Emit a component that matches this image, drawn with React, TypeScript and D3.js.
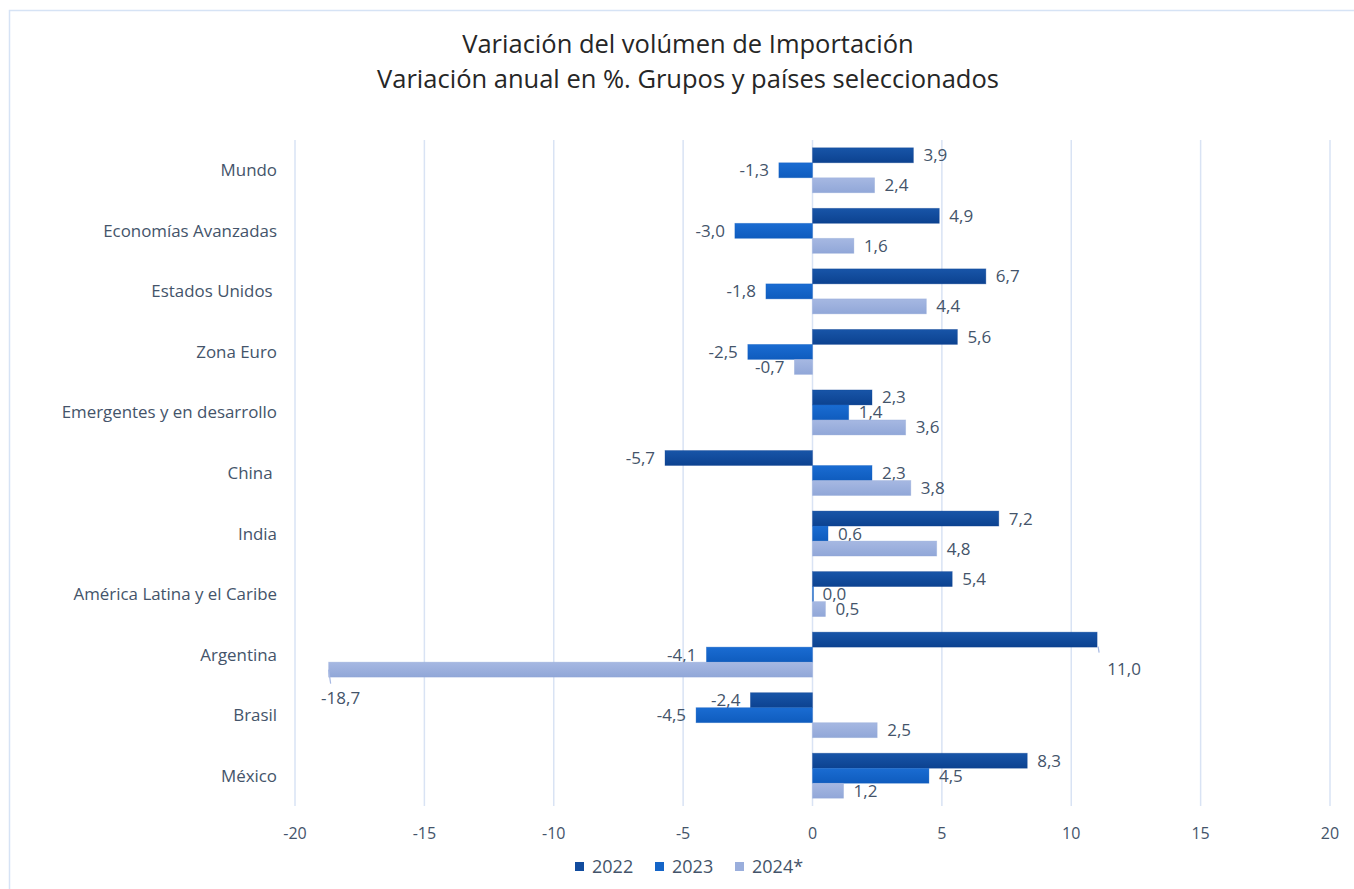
import React from "react";
import * as d3 from "d3";

const categories = [
  "Mundo",
  "Economías Avanzadas",
  "Estados Unidos ",
  "Zona Euro",
  "Emergentes y en desarrollo",
  "China ",
  "India",
  "América Latina y el Caribe",
  "Argentina",
  "Brasil",
  "México",
];
const seriesNames = ["2022", "2023", "2024*"];
const values2022 = [3.9, 4.9, 6.7, 5.6, 2.3, -5.7, 7.2, 5.4, 11.0, -2.4, 8.3];
const values2023 = [-1.3, -3.0, -1.8, -2.5, 1.4, 2.3, 0.6, 0.0, -4.1, -4.5, 4.5];
const values2024 = [2.4, 1.6, 4.4, -0.7, 3.6, 3.8, 4.8, 0.5, -18.7, 2.5, 1.2];
const xTicks = [-20, -15, -10, -5, 0, 5, 10, 15, 20];
const titleLines = [
  "Variación del volúmen de Importación",
  "Variación anual en %. Grupos y países seleccionados",
];

const seriesValues = [values2022, values2023, values2024];
const colors = [
  ["#1855A8", "#0C4290"],
  ["#1A6CD2", "#0F5CBE"],
  ["#A6B8E2", "#91A7D8"],
];
const legendColors = ["#124C9E", "#1565C8", "#9AAEDC"];

// manually moved labels (below the bar end, with a leader line)
const labelMoves: Record<string, { dx: number; dy: number; leaderLen: number; leaderDx: number }> = {
  "8-0": { dx: 27, dy: 35, leaderLen: 6, leaderDx: 1 },
  "8-2": { dx: 12, dy: 34, leaderLen: 14, leaderDx: 2 },
};

const W = 1354;
const H = 889;
const fontFamily = "'Open Sans', Lato, sans-serif";
const textColor = "#44546A";

export default function App() {
  const x = d3.scaleLinear().domain([-20, 20]).range([295, 1330]);
  const y = d3.scaleBand<string>().domain(categories).range([140, 806]).paddingInner(0).paddingOuter(0);
  const groupH = 45;
  const sub = d3
    .scaleBand<string>()
    .domain(seriesNames)
    .range([(y.bandwidth() - groupH) / 2, (y.bandwidth() + groupH) / 2]);
  const fmt = (v: number) => v.toFixed(1).replace(".", ",");

  const legendX = [575, 655, 735];

  return (
    <svg width={W} height={H} style={{ display: "block", position: "absolute", left: 0, top: 0 }}>
      <defs>
        {colors.map((c, i) => (
          <linearGradient key={i} id={`g${i}`} x1="0" y1="0" x2="0" y2="1">
            <stop offset="0%" stopColor={c[0]} />
            <stop offset="100%" stopColor={c[1]} />
          </linearGradient>
        ))}
      </defs>
      <rect x={0} y={0} width={W} height={H} fill="#fff" />
      <rect x={9.5} y={10.5} width={W + 20} height={H + 20} fill="none" stroke="#D6E3F5" strokeWidth={1.5} />
      {titleLines.map((t, i) => (
        <text
          key={i}
          x={688}
          y={53 + i * 35}
          textAnchor="middle"
          fontFamily={fontFamily}
          fontSize={25.5}
          fill="#262626"
        >
          {t}
        </text>
      ))}
      {xTicks.map((t) => (
        <g key={t}>
          <line x1={x(t)} x2={x(t)} y1={140} y2={806} stroke="#D9E3F4" strokeWidth={1.5} />
          <text
            x={x(t)}
            y={839}
            textAnchor="middle"
            fontFamily={fontFamily}
            fontSize={16}
            fill={textColor}
          >
            {t}
          </text>
        </g>
      ))}
      {categories.map((c) => (
        <text
          key={c}
          x={277}
          y={(y(c) as number) + y.bandwidth() / 2 + 6}
          textAnchor="end"
          fontFamily={fontFamily}
          fontSize={16.9}
          fill={textColor}
          style={{ whiteSpace: "pre" }}
        >
          {c}
        </text>
      ))}
      {categories.map((c, ci) =>
        seriesNames.map((s, si) => {
          const v = seriesValues[si][ci];
          const y0 = (y(c) as number) + (sub(s) as number);
          const h = sub.bandwidth();
          const x0 = Math.min(x(0), x(v));
          const w = Math.abs(x(v) - x(0));
          const key = `${ci}-${si}`;
          const mv = labelMoves[key];
          let lx = v >= 0 ? x(v) + 10 : x(v) - 10;
          let anchor = v >= 0 ? "start" : "end";
          let ly = y0 + h / 2 + 6;
          let leader = null as React.ReactNode;
          if (mv) {
            lx = x(v) + mv.dx;
            ly = y0 + h / 2 + mv.dy;
            anchor = "middle";
            leader = (
              <line
                x1={x(v) + (v >= 0 ? 1 : 0)}
                x2={x(v) + (v >= 0 ? 1 : 0) + mv.leaderDx}
                y1={y0 + h / 2 + (v >= 0 ? 7 : 0)}
                y2={y0 + h / 2 + (v >= 0 ? 7 : 0) + mv.leaderLen}
                stroke="#A6B8E2"
                strokeWidth={1.2}
              />
            );
          }
          return (
            <g key={key}>
              <rect
                x={x0}
                y={y0}
                width={Math.max(w, v === 0 ? 1 : 0)}
                height={h}
                fill={`url(#g${si})`}
                stroke={colors[si][1]}
                strokeOpacity={0.4}
                strokeWidth={0.8}
              />
              {leader}
              <text
                x={lx}
                y={ly}
                textAnchor={anchor}
                fontFamily={fontFamily}
                fontSize={17}
                fill={textColor}
              >
                {fmt(v)}
              </text>
            </g>
          );
        })
      )}
      {seriesNames.map((s, i) => (
        <g key={s}>
          <rect x={legendX[i]} y={862} width={9} height={9} fill={legendColors[i]} />
          <text x={legendX[i] + 17} y={873} fontFamily={fontFamily} fontSize={18} fill={textColor}>
            {s}
          </text>
        </g>
      ))}
    </svg>
  );
}
